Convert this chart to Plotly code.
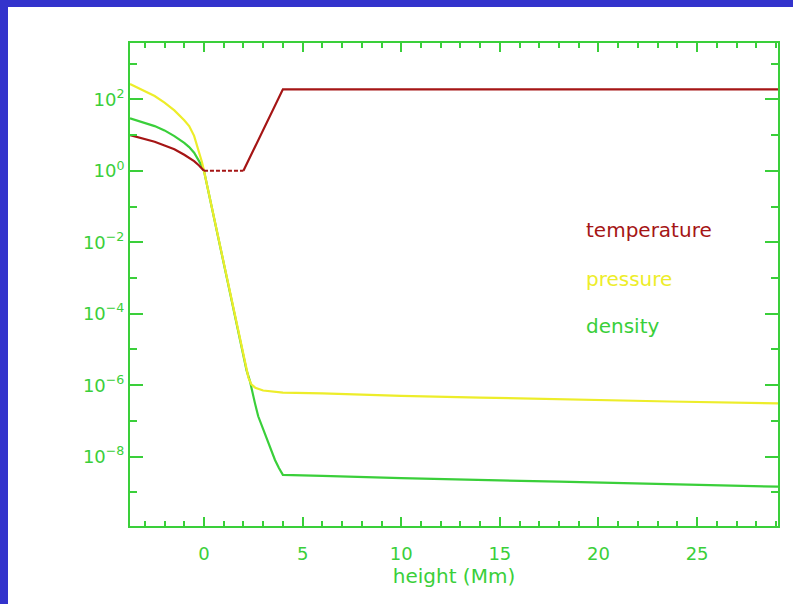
import plotly.graph_objects as go

# ---- data -------------------------------------------------------------
height_p = [-3.75, -3.5, -3.0, -2.5, -2.0, -1.5, -1.0, -0.75, -0.5, -0.25, -0.1,
            0.0, 1.0, 2.0, 2.25, 2.4, 2.6, 3.0, 3.5, 4.0, 6.0, 10.0, 14.0,
            18.0, 23.6, 29.1]
pressure = [269, 229, 174, 123, 81, 49, 26, 17.8, 9.5, 3.6, 1.74,
            1.0, 2.7e-3, 7.1e-6, 1.66e-6, 1.05e-6, 8.5e-7, 7.1e-7, 6.5e-7,
            6.2e-7, 5.9e-7, 5.0e-7, 4.5e-7, 4.0e-7, 3.5e-7, 3.1e-7]

height_d = [-3.75, -3.5, -3.0, -2.5, -2.0, -1.5, -1.0, -0.75, -0.5, -0.25, -0.1,
            0.0, 1.0, 2.0, 2.16, 2.33, 2.45, 2.58, 2.75, 3.0, 3.26, 3.6, 3.8,
            4.0, 6.0, 10.0, 18.0, 23.6, 29.1]
density = [29.5, 26.9, 21.9, 17.8, 13.5, 9.3, 6.0, 4.6, 3.2, 1.95, 1.35,
           1.0, 2.7e-3, 7.1e-6, 2.6e-6, 1.3e-6, 6.3e-7, 3.2e-7, 1.35e-7,
           5.8e-8, 2.4e-8, 8.1e-9, 4.8e-9, 3.1e-9, 2.9e-9, 2.5e-9, 2.0e-9,
           1.7e-9, 1.45e-9]

# temperature: photosphere, isothermal chromosphere, transition region + corona
height_t_low = [-3.75, -3.5, -3.0, -2.5, -2.0, -1.5, -1.0, -0.75, -0.5, -0.25,
                -0.1, 0.0]
temp_low = [10.0, 9.1, 7.8, 6.5, 5.1, 4.0, 2.8, 2.34, 1.86, 1.41, 1.17, 1.0]
height_t_chromo = [0.0, 2.0]
temp_chromo = [1.0, 1.0]
height_t_upper = [2.0, 4.0, 29.1]
temp_upper = [1.0, 190, 190]

x_range = [-3.75, 29.1]
y_range_log = [-9.94, 3.575]
y_tick_exps = [-8, -6, -4, -2, 0, 2]
y_minor_exps = list(range(-9, 4))

labels = ["temperature", "pressure", "density"]

# ---- styling ----------------------------------------------------------
GREEN = "#3ACF3A"
RED = "#A51515"
YELLOW = "#EDED2A"
BLUE = "#3333CC"
FONT = "DejaVu Sans"

W, H = 793, 604
ML, MR, MT, MB = 130, 15, 43, 78
pw, ph = W - ML - MR, H - MT - MB

fig = go.Figure()
fig.add_trace(go.Scatter(x=height_d, y=density, mode="lines",
                         line=dict(color=GREEN, width=2.2)))
fig.add_trace(go.Scatter(x=height_p, y=pressure, mode="lines",
                         line=dict(color=YELLOW, width=2.2)))
fig.add_trace(go.Scatter(x=height_t_low, y=temp_low, mode="lines",
                         line=dict(color=RED, width=2.2)))
fig.add_trace(go.Scatter(x=height_t_chromo, y=temp_chromo, mode="lines",
                         line=dict(color=RED, width=2.2, dash="4px,2px")))
fig.add_trace(go.Scatter(x=height_t_upper, y=temp_upper, mode="lines",
                         line=dict(color=RED, width=2.2)))

# white panel over the blue page
fig.add_shape(type="rect", xref="paper", yref="paper", layer="below",
              x0=(8 - ML) / pw, x1=(W - ML) / pw,
              y0=-(H - (MT + ph)) / ph, y1=1 + (MT - 7) / ph,
              fillcolor="white", line=dict(width=0))

for text, color, ypix in zip(labels, [RED, YELLOW, GREEN], [230, 279, 326]):
    fig.add_annotation(text=text, xref="paper", yref="paper",
                       x=(584 - ML) / pw, y=(MT + ph - ypix) / ph,
                       xanchor="left", yanchor="middle", showarrow=False,
                       font=dict(family=FONT, size=20, color=color))

fig.update_xaxes(range=x_range, tickmode="linear", tick0=0, dtick=5,
                 ticks="inside", ticklen=9, tickwidth=2, tickcolor=GREEN,
                 minor=dict(ticks="inside", ticklen=5, tickwidth=2,
                            tickcolor=GREEN, dtick=1, tick0=0),
                 showline=True, linecolor=GREEN, linewidth=2, mirror="ticks",
                 showgrid=False, zeroline=False, ticklabelstandoff=10,
                 tickfont=dict(family=FONT, size=18, color=GREEN),
                 title=dict(text="height (Mm)", standoff=6,
                            font=dict(family=FONT, size=20, color=GREEN)))

fig.update_yaxes(type="log", range=y_range_log, tickmode="array",
                 tickvals=[10.0 ** e for e in y_tick_exps],
                 ticktext=["10<sup>" + ("\u2212" if e < 0 else "") + str(abs(e)) + "</sup>"
                           for e in y_tick_exps],
                 ticks="inside", ticklen=13, tickwidth=2, tickcolor=GREEN,
                 minor=dict(ticks="inside", ticklen=7, tickwidth=2,
                            tickcolor=GREEN, tickmode="array",
                            tickvals=[10.0 ** e for e in y_minor_exps]),
                 showline=True, linecolor=GREEN, linewidth=2, mirror="ticks",
                 showgrid=False, zeroline=False,
                 tickfont=dict(family=FONT, size=18, color=GREEN))

fig.update_layout(width=W, height=H, margin=dict(l=ML, r=MR, t=MT, b=MB),
                  paper_bgcolor=BLUE, plot_bgcolor="white", showlegend=False)

fig.write_html("out.html")
